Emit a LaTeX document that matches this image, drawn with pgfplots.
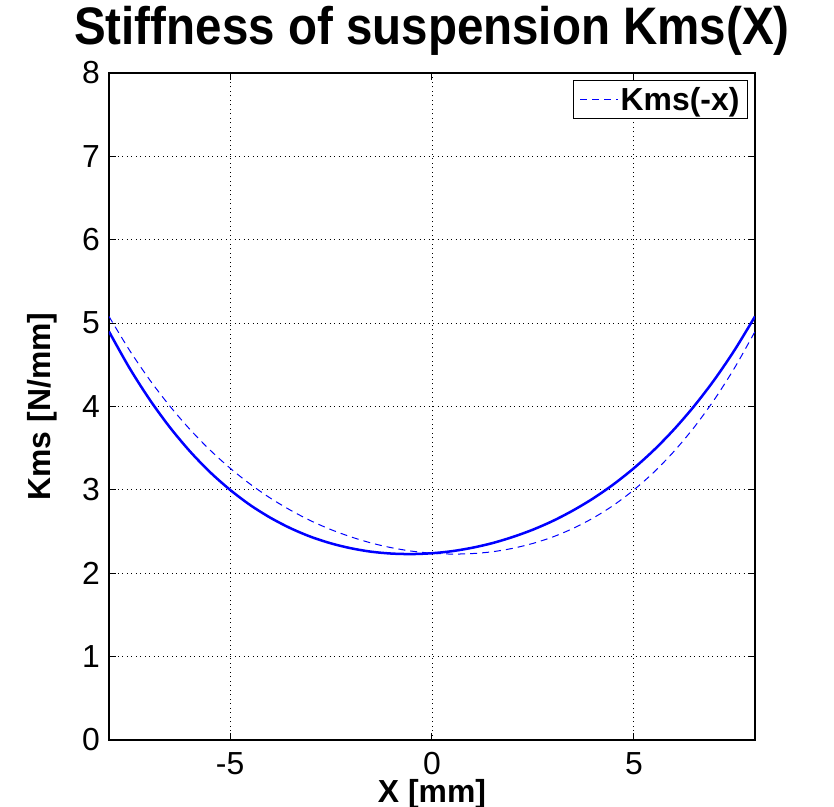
\documentclass[border=0pt]{standalone}
\usepackage{pgfplots}
\pgfplotsset{compat=1.18}
\usepackage{fontspec}
\setmainfont{Liberation Sans}
\newfontfamily\titlefont[FakeStretch=0.9]{Liberation Sans}
\begin{document}
\begin{tikzpicture}
\begin{axis}[
 at={(0,0)}, anchor=south west,
 scale only axis, width=646bp, height=667bp,
 xmin=-8, xmax=8, ymin=0, ymax=8,
 xtick={-5,0,5}, xticklabels={-5,0,5},
 ytick={0,1,2,3,4,5,6,7,8}, yticklabels={0,1,2,3,4,5,6,7,8},
 grid=major, major grid style={black, dash pattern=on 1bp off 3.5bp, line width=0.8bp},
 tick align=inside, major tick length=7bp, tick style={black, line width=1bp},
 axis line style={black, line width=1.5bp},
 ticklabel style={font=\fontsize{32}{36}\selectfont},
 xticklabel style={anchor=base, inner sep=0pt, yshift=-34bp},
 yticklabel style={anchor=east, inner sep=0pt, xshift=-9bp},
 title={Stiffness of suspension Kms(X)},
 title style={font=\titlefont\fontsize{53}{60}\selectfont\bfseries, anchor=base, at={(0.5,1)}, yshift=23bp, inner sep=0pt},
 xlabel={X [mm]}, ylabel={Kms [N/mm]},
 label style={font=\fontsize{32}{36}\selectfont\bfseries},
 xlabel style={at={(axis description cs:0.5,-0.094)}, anchor=base, inner sep=0pt},
 ylabel style={at={(axis description cs:-0.104,0.5)}, anchor=center, inner sep=0pt},
 legend style={at={(axis description cs:0.989,0.99)}, anchor=north east, draw=black, line width=1bp,
   font=\fontsize{32}{36}\selectfont\bfseries, inner xsep=6bp, inner ysep=5bp},
 legend image code/.code={\draw[#1] (0bp,0bp) -- (38bp,0bp);},
 legend cell align=left,
]
\addplot[blue, line width=2.5bp, smooth, forget plot] coordinates {
(-8,4.899) (-7.5,4.468) (-7,4.088) (-6.5,3.755) (-6,3.465) (-5.5,3.214) (-5,3.000)
(-4.5,2.817) (-4,2.665) (-3.5,2.539) (-3,2.437) (-2.5,2.358) (-2,2.299) (-1.5,2.258)
(-1,2.236) (-0.5,2.230) (0,2.240) (0.5,2.265) (1,2.306) (1.5,2.362) (2,2.435)
(2.5,2.523) (3,2.629) (3.5,2.755) (4,2.900) (4.5,3.068) (5,3.260) (5.5,3.479)
(6,3.728) (6.5,4.009) (7,4.325) (7.5,4.681) (8,5.080)};
\addplot[blue, line width=1bp, smooth, dash pattern=on 7bp off 5bp] coordinates {
(-8,5.080) (-7.5,4.681) (-7,4.325) (-6.5,4.009) (-6,3.728) (-5.5,3.479) (-5,3.260)
(-4.5,3.068) (-4,2.900) (-3.5,2.755) (-3,2.629) (-2.5,2.523) (-2,2.435) (-1.5,2.362)
(-1,2.306) (-0.5,2.265) (0,2.240) (0.5,2.230) (1,2.236) (1.5,2.258) (2,2.299)
(2.5,2.358) (3,2.437) (3.5,2.539) (4,2.665) (4.5,2.817) (5,3.000) (5.5,3.214)
(6,3.465) (6.5,3.755) (7,4.088) (7.5,4.468) (8,4.899)};
\addlegendentry{Kms(-x)}
\end{axis}
\pgfresetboundingbox
\path[use as bounding box] (-109bp,-67bp) rectangle (725bp,740bp);
\end{tikzpicture}
\end{document}
